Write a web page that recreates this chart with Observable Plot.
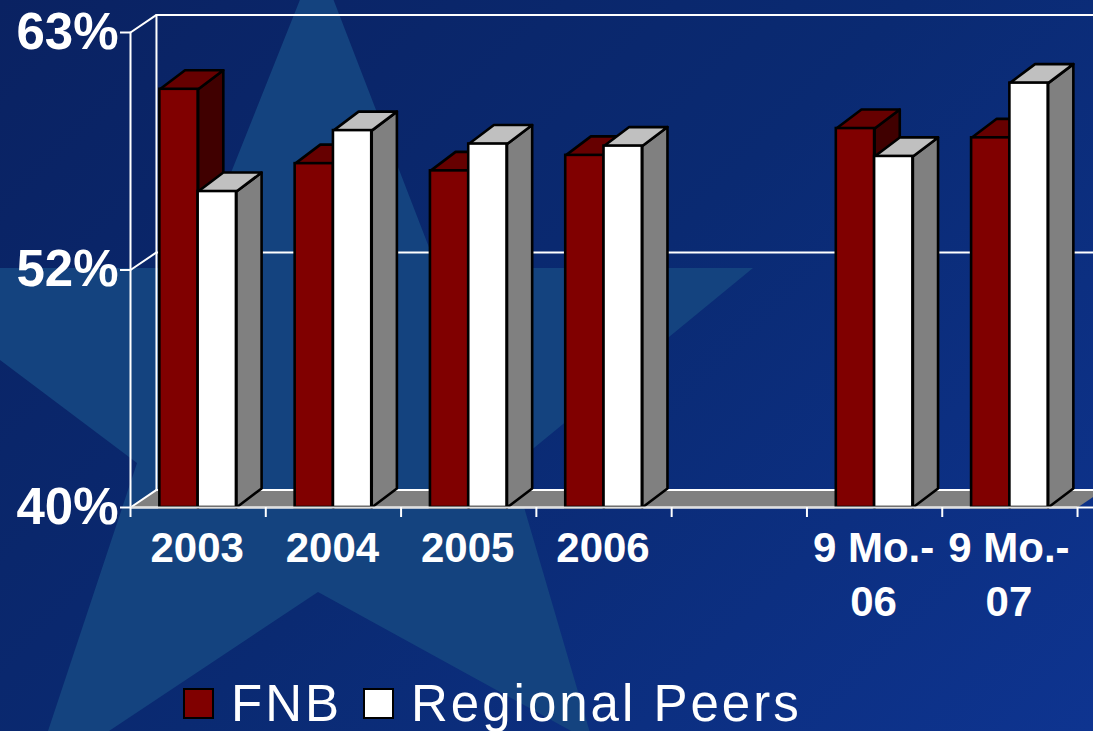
<!DOCTYPE html>
<html><head><meta charset="utf-8">
<script src="https://cdn.jsdelivr.net/npm/d3@7"></script>
<script src="https://cdn.jsdelivr.net/npm/@observablehq/plot@0.6"></script>
<style>
html,body{margin:0;padding:0;width:1093px;height:731px;overflow:hidden;background:#0b2a75}
#bg{position:absolute;left:0;top:0;width:1093px;height:731px;background:linear-gradient(135deg,#0a2262 0%,#0a2a72 50%,#0e3490 100%)}
#star{position:absolute;left:0;top:0;width:1093px;height:731px;background:#14437f;
clip-path:polygon(317px -43px,437px 268px,753px 268px,512px 466px,593px 743px,318px 592px,109px 731px,48px 731px,137px 463px,0px 360px,0px 268px,193px 268px)}
#chart{position:absolute;left:0;top:0}
#legend{position:absolute;left:0;top:670px;width:1093px;height:61px;font-family:"Liberation Sans",Arial,sans-serif;color:#fff;font-size:51px;letter-spacing:3px}
#legend span{position:absolute;white-space:nowrap;line-height:60px}
#legend i{position:absolute;width:27px;height:27px;border:2.5px solid #000;top:18px}
</style></head><body>
<div id="bg"></div><div id="star"></div><div id="chart"></div>
<div id="legend">
<i style="left:183px;background:#800000"></i><span style="left:231px;top:4px">FNB</span>
<i style="left:363px;background:#fff"></i><span style="left:411px;top:4px">Regional Peers</span>
</div>
<script>
const categories = ["2003","2004","2005","2006","","9 Mo.-\n06","9 Mo.-\n07"];
const fnb   = [60.25,56.65,56.3,57.05,null,58.35,57.9];
const peers = [55.3,58.25,57.6,57.5,null,57.0,60.55];
const yTicks = [40,51.5,63];
const yLabels = ["40%","52%","63%"];
const xBoundaries = [0,1,2,3,4,5,6,7];
const yMin = 40, yMax = 63;
const dx = 0.192, dy = 0.85;      // oblique depth of the 3-D box, in data units
const barDx = 0.186, barDy = 0.92; // oblique depth of one bar
const barOffset = 0.217, barW = 0.283; // position of bars within a category

const fnbBars = [], peerBars = [];
categories.forEach((c,i)=>{
  if (fnb[i]!=null) fnbBars.push({x1:i+barOffset,x2:i+barOffset+barW,v:fnb[i]});
  if (peers[i]!=null) peerBars.push({x1:i+barOffset+barW,x2:i+barOffset+2*barW,v:peers[i]});
});
function faces(bars,topC,sideC,tag){
  const out=[];
  bars.forEach((b,k)=>{
    const side=[[b.x2,yMin],[b.x2+barDx,yMin+barDy],[b.x2+barDx,b.v+barDy],[b.x2,b.v],[b.x2,yMin]];
    const top=[[b.x1,b.v],[b.x1+barDx,b.v+barDy],[b.x2+barDx,b.v+barDy],[b.x2,b.v],[b.x1,b.v]];
    side.forEach(p=>out.push({id:tag+"s"+k,x:p[0],y:p[1],c:sideC}));
    top.forEach(p=>out.push({id:tag+"t"+k,x:p[0],y:p[1],c:topC}));
  });
  return out;
}
const xEnd = 7.118;
const floor=[[0,yMin],[dx,yMin+dy],[7+dx,yMin+dy],[7,yMin],[0,yMin]].map(p=>({x:p[0],y:p[1]}));
const walls=[
  [[0,yMax],[dx,yMax+dy],[xEnd,yMax+dy]],
  [[dx,yMax+dy],[dx,yMin+dy],[xEnd,yMin+dy]],
  [[0,51.5],[dx,51.5+dy],[xEnd,51.5+dy]],
  [[0,yMin],[dx,yMin+dy]],
  [[0,yMax],[0,yMin],[xEnd,yMin]]
].flatMap((l,k)=>l.map(p=>({id:k,x:p[0],y:p[1]})));
const labels = categories.map((c,i)=>({c,x:i+0.5})).filter(d=>d.c);
const white="#fff";
const plot = Plot.plot({
  width:1093,height:670,
  marginLeft:130,marginRight:0,marginTop:0,marginBottom:0,
  x:{type:"linear",domain:[0,xEnd],range:[130,1093]},
  y:{type:"linear",domain:[yMin,yMax],range:[507,32]},
  color:{type:"identity"},
  style:{background:"transparent",fontFamily:"'Liberation Sans',Arial,sans-serif",color:white,overflow:"visible"},
  marks:[
    Plot.line(floor,{x:"x",y:"y",fill:"#808080",stroke:"none"}),
    Plot.line(walls,{x:"x",y:"y",z:"id",stroke:white,strokeWidth:2,strokeLinejoin:"miter",curve:"linear"}),
    Plot.line(faces(fnbBars,"#660000","#400000","f"),{x:"x",y:"y",z:"id",fill:"c",stroke:"#000",strokeWidth:2.6}),
    Plot.rect(fnbBars,{x1:"x1",x2:"x2",y1:yMin,y2:"v",fill:"#800000",stroke:"#000",strokeWidth:2.6}),
    Plot.line(faces(peerBars,"#c0c0c0","#808080","p"),{x:"x",y:"y",z:"id",fill:"c",stroke:"#000",strokeWidth:2.6}),
    Plot.rect(peerBars,{x1:"x1",x2:"x2",y1:yMin,y2:"v",fill:"#fff",stroke:"#000",strokeWidth:2.6}),
    Plot.ruleY([yMin],{x1:0,x2:7,stroke:"#e0e0e0",strokeWidth:2}),
    Plot.axisX({ticks:xBoundaries,tickFormat:()=>"",tickSize:10,label:null,stroke:white,strokeWidth:2,strokeOpacity:1,y:yMin,anchor:"bottom"}),
    Plot.axisY({ticks:yTicks,tickFormat:v=>yLabels[yTicks.indexOf(v)],tickSize:10,tickPadding:2,label:null,fontSize:51,fontWeight:"bold",fill:white,stroke:white,strokeWidth:2,strokeOpacity:1}),
    Plot.text(labels,{x:"x",y:yMin,text:"c",dx:-1,dy:16,lineAnchor:"top",lineHeight:1.29,fontSize:42,fontWeight:"bold",fill:white})
  ]
});
document.getElementById("chart").appendChild(plot);
</script>
</body></html>
